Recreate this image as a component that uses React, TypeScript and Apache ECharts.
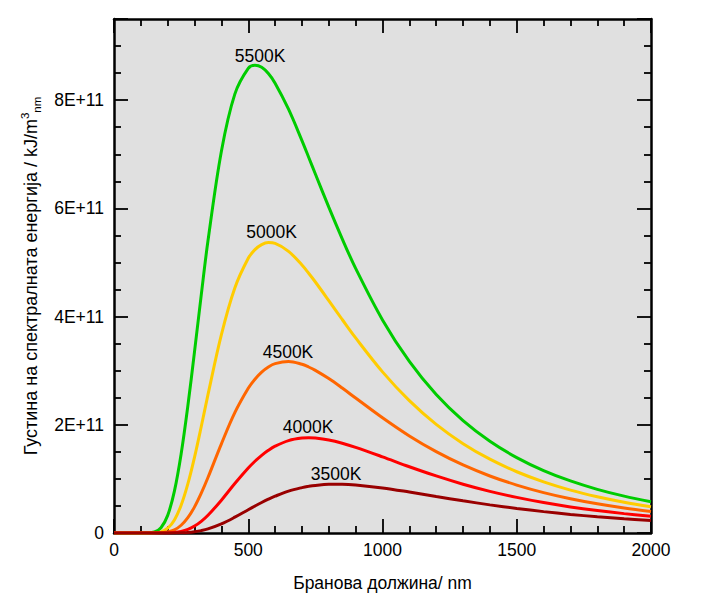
import React, { useEffect, useRef } from "react";
import * as echarts from "echarts";

// wavelength (nm)
const wavelengths = [0, 50, 100, 150, 175, 200, 225, 250, 275, 300, 325, 350, 400, 450, 500, 525, 550, 575, 600, 650, 700, 725, 750, 800, 850, 900, 1000, 1100, 1200, 1300, 1400, 1500, 1600, 1700, 1800, 1900, 2000];

// spectral energy density, in units of 1E+11
const u5500 = [0, 0, 0, 0.018, 0.098, 0.326, 0.773, 1.46, 2.347, 3.357, 4.401, 5.4, 7.056, 8.111, 8.586, 8.644, 8.607, 8.491, 8.314, 7.833, 7.253, 6.946, 6.636, 6.022, 5.437, 4.891, 3.939, 3.17, 2.558, 2.076, 1.695, 1.394, 1.154, 0.962, 0.807, 0.681, 0.578];
const u5000 = [0, 0, 0, 0.003, 0.022, 0.088, 0.242, 0.513, 0.907, 1.404, 1.968, 2.557, 3.667, 4.529, 5.077, 5.238, 5.331, 5.367, 5.352, 5.206, 4.953, 4.801, 4.639, 4.295, 3.946, 3.605, 2.978, 2.446, 2.007, 1.651, 1.364, 1.132, 0.945, 0.793, 0.67, 0.569, 0.485];
const u4500 = [0, 0, 0, 0, 0.004, 0.018, 0.058, 0.143, 0.283, 0.483, 0.736, 1.025, 1.648, 2.224, 2.674, 2.843, 2.974, 3.069, 3.13, 3.169, 3.118, 3.068, 3.006, 2.854, 2.679, 2.495, 2.129, 1.793, 1.503, 1.257, 1.054, 0.886, 0.747, 0.633, 0.539, 0.461, 0.396];
const u4000 = [0, 0, 0, 0, 0, 0.002, 0.01, 0.029, 0.066, 0.128, 0.215, 0.327, 0.607, 0.915, 1.201, 1.326, 1.436, 1.528, 1.604, 1.708, 1.754, 1.759, 1.754, 1.719, 1.66, 1.584, 1.408, 1.225, 1.055, 0.902, 0.77, 0.658, 0.562, 0.482, 0.415, 0.358, 0.31];
const u3500 = [0, 0, 0, 0, 0, 0, 0.001, 0.004, 0.01, 0.023, 0.044, 0.075, 0.168, 0.292, 0.43, 0.498, 0.564, 0.625, 0.68, 0.773, 0.839, 0.863, 0.88, 0.899, 0.901, 0.888, 0.833, 0.757, 0.675, 0.595, 0.52, 0.454, 0.395, 0.344, 0.3, 0.262, 0.229];

const seriesNames = ["5500K", "5000K", "4500K", "4000K", "3500K"];
const seriesValues = [u5500, u5000, u4500, u4000, u3500];
// label anchor in data coordinates (nm, 1E+11)
const labelWavelengths = [544, 587, 648, 723, 827];
const labelValues = [8.81, 5.57, 3.34, 1.954, 1.094];

const colors = ["#00cc00", "#ffcc00", "#ff6600", "#ff0000", "#990000"];
const FONT = "'Liberation Sans', Arial, Helvetica, sans-serif";

export default function App() {
  const ref = useRef<HTMLDivElement>(null);
  useEffect(() => {
    if (!ref.current) return;
    const chart = echarts.init(ref.current, null, { renderer: "svg" });

    const axisLine = { show: true, onZero: false, lineStyle: { color: "#000", width: 2.5 } };
    const tick = { show: true, inside: true, length: 14, lineStyle: { color: "#000", width: 1.8 } };
    const minorTickX = { show: true, splitNumber: 5, length: 7, lineStyle: { color: "#000", width: 1.8 } };
    const minorTickY = { show: true, splitNumber: 4, length: 7, lineStyle: { color: "#000", width: 1.8 } };

    const option: any = {
      animation: false,
      backgroundColor: "#ffffff",
      grid: {
        left: 114,
        top: 19,
        width: 537,
        height: 514,
        show: true,
        backgroundColor: "#e0e0e0",
        borderWidth: 0,
      },
      xAxis: [
        {
          type: "value",
          min: 0,
          max: 2000,
          interval: 500,
          position: "bottom",
          axisLine,
          axisTick: tick,
          minorTick: minorTickX,
          splitLine: { show: false },
          axisLabel: {
            color: "#000",
            fontSize: 17.5,
            fontFamily: FONT,
            margin: 8,
            formatter: (v: number) => String(v),
          },
          name: "Бранова должина/ nm",
          nameLocation: "middle",
          nameGap: 41,
          nameTextStyle: { color: "#000", fontSize: 17.5, fontFamily: FONT },
        },
        {
          type: "value",
          min: 0,
          max: 2000,
          interval: 500,
          position: "top",
          axisLine,
          axisTick: tick,
          minorTick: minorTickX,
          splitLine: { show: false },
          axisLabel: { show: false },
        },
      ],
      yAxis: [
        {
          type: "value",
          min: 0,
          max: 9.5,
          interval: 2,
          position: "left",
          axisLine,
          axisTick: tick,
          minorTick: minorTickY,
          splitLine: { show: false },
          axisLabel: {
            color: "#000",
            fontSize: 17.5,
            fontFamily: FONT,
            margin: 10,
            showMaxLabel: false,
            formatter: (v: number) => (v === 0 ? "0" : `${v}E+11`),
          },
          name: "Густина на спектралната енергија / kJ/m{sup|3}{sub|nm}",
          nameLocation: "middle",
          nameRotate: 90,
          nameGap: 70,
          nameTextStyle: {
            color: "#000",
            fontSize: 18,
            fontFamily: FONT,
            lineHeight: 24,
            rich: {
              sup: { fontSize: 11.5, lineHeight: 16, verticalAlign: "top", fontFamily: FONT, color: "#000" },
              sub: { fontSize: 11.5, lineHeight: 18, verticalAlign: "bottom", fontFamily: FONT, color: "#000" },
            },
          },
        },
        {
          type: "value",
          min: 0,
          max: 9.5,
          interval: 2,
          position: "right",
          axisLine,
          axisTick: tick,
          minorTick: minorTickY,
          splitLine: { show: false },
          axisLabel: { show: false },
        },
      ],
      series: seriesNames.map((name, k) => ({
        type: "line",
        name,
        xAxisIndex: 0,
        yAxisIndex: 0,
        data: wavelengths.map((w, i) => [w, seriesValues[k][i]]),
        smooth: 0.35,
        symbol: "none",
        showSymbol: false,
        lineStyle: { color: colors[k], width: 3 },
        itemStyle: { color: colors[k] },
        z: 2 + k * 0.01,
        markPoint: {
          silent: true,
          symbol: "circle",
          symbolSize: 1,
          itemStyle: { color: "rgba(0,0,0,0)" },
          label: {
            show: true,
            position: "inside",
            formatter: name,
            color: "#000",
            fontSize: 17.5,
            fontFamily: FONT,
          },
          data: [{ coord: [labelWavelengths[k], labelValues[k]] }],
        },
      })),
    };
    chart.setOption(option);
    return () => chart.dispose();
  }, []);

  return (
    <div
      ref={ref}
      style={{ position: "absolute", left: 0, top: 0, width: 720, height: 600 }}
    />
  );
}
